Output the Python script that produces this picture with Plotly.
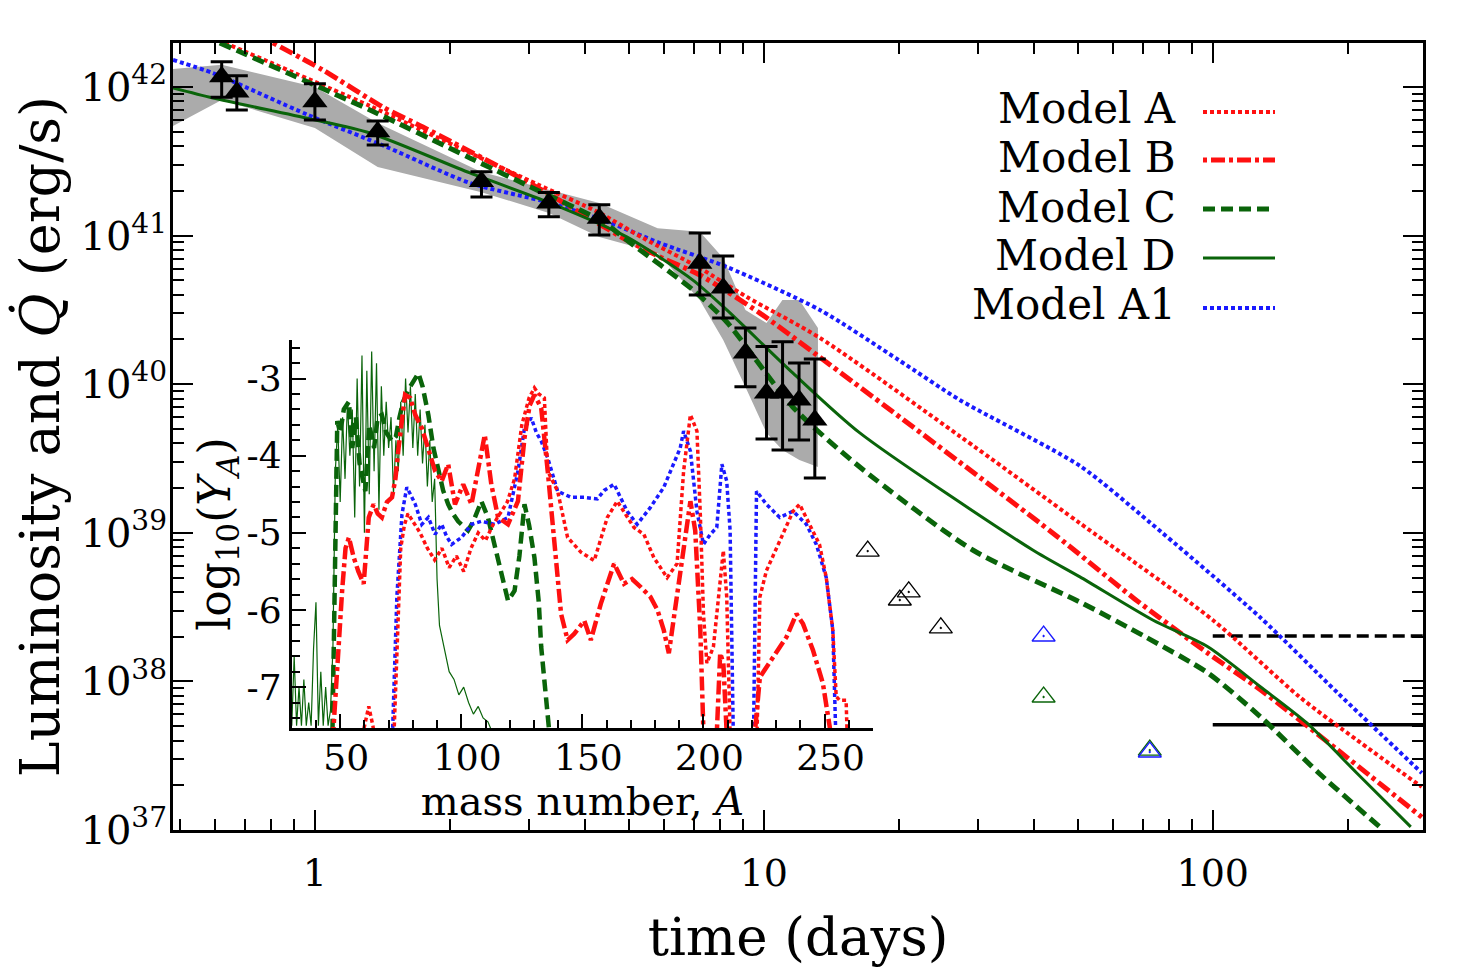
import numpy as np
import plotly.graph_objects as go

FONT = "DejaVu Serif"

# ---------------- main panel data ----------------
obs_t = [0.62, 0.67, 1.0, 1.38, 2.35, 3.32, 4.30, 7.20, 8.12, 9.10, 10.14, 11.01, 11.98, 12.99]
obs_L = [1.17e42, 9.25e41, 7.96e41, 5.00e41, 2.31e41, 1.66e41, 1.31e41, 6.52e40, 4.44e40, 1.62e40,
         8.73e39, 8.73e39, 7.83e39, 5.74e39]
obs_L_hi = [1.48e42, 1.19e42, 1.05e42, 5.90e41, 2.69e41, 1.95e41, 1.61e41, 1.04e41, 7.29e40, 2.39e40,
            1.79e40, 1.93e40, 1.39e40, 1.48e40]
obs_L_lo = [8.53e41, 7.00e41, 6.00e41, 4.07e41, 1.82e41, 1.34e41, 1.01e41, 3.98e40, 2.79e40, 9.62e39,
            4.28e39, 3.61e39, 4.21e39, 2.34e39]

band_t = [0.483, 0.62, 1.0, 1.38, 2.35, 3.32, 4.3, 5.8, 7.2, 8.12, 9.1, 10.14, 11.0, 12.0, 13.2]
band_hi = [1.32e42, 1.41e42, 1.0e42, 5.73e41, 2.68e41, 2.03e41, 1.66e41, 1.12e41, 1.06e41, 7.06e40,
           3.16e40, 2.58e40, 3.69e40, 3.69e40, 2.39e40]
band_lo = [5.47e41, 8.18e41, 5.30e41, 2.90e41, 1.96e41, 1.42e41, 9.79e40, 7.64e40, 3.69e40, 1.98e40,
           9.57e39, 4.70e39, 3.61e39, 3.09e39, 2.77e39]

modelA_t = [0.630, 1.326, 2.214, 3.122, 4.31, 5.38, 7.20, 9.17, 13.33, 27.3, 50.6, 100, 156.2, 209.3, 292.2]
modelA_L = [1.98e42, 7.45e41, 3.60e41, 2.22e41, 1.42e41, 9.64e40, 6.05e40, 3.86e40, 2.05e40, 4.48e39,
            1.16e39, 2.59e38, 7.85e37, 4.04e37, 1.95e37]

modelB_t = [0.806, 1.042, 1.417, 1.740, 3.122, 4.95, 5.87, 7.20, 9.80, 13.33, 44.0, 67.0, 97.5, 127.9,
            189.9, 292.2]
modelB_L = [1.98e42, 1.30e42, 7.33e41, 5.38e41, 2.12e41, 9.33e40, 7.18e40, 5.43e40, 3.01e40, 1.52e40,
            9.98e38, 3.59e38, 1.55e38, 8.75e37, 3.45e37, 1.22e37]

modelC_t = [0.614, 1.326, 2.214, 3.122, 4.38, 4.95, 6.95, 8.27, 11.6, 16.36, 29.2, 50.6, 70.9, 97.5,
            127.9, 172.2, 235.4]
modelC_L = [1.98e42, 7.00e41, 3.33e41, 2.03e41, 1.24e41, 9.33e40, 4.31e40, 2.62e40, 7.03e39, 2.77e39,
            7.66e38, 3.42e38, 1.99e38, 1.14e38, 5.76e37, 2.42e37, 1.05e37]

modelD_t = [0.483, 0.593, 0.975, 1.326, 2.214, 3.337, 4.95, 6.95, 8.27, 11.6, 16.36, 39.72, 50.6, 73.5,
            97.5, 127.9, 162.0, 209.3, 276.1]
modelD_L = [9.85e41, 8.43e41, 6.10e41, 4.90e41, 2.64e41, 1.66e41, 9.80e40, 5.02e40, 3.16e40, 1.19e40,
            4.70e39, 7.66e38, 5.05e38, 2.59e38, 1.71e38, 9.17e37, 5.25e37, 2.42e37, 1.05e37]

modelA1_t = [0.483, 0.593, 0.965, 1.447, 2.214, 3.337, 4.54, 5.87, 8.27, 13.33, 20.0, 27.33, 50.6, 72.3,
             127.3, 189.9, 292.2]
modelA1_L = [1.52e42, 1.24e42, 6.49e41, 3.94e41, 2.26e41, 1.66e41, 1.22e41, 8.9e40, 6.15e40, 3.16e40,
             1.45e40, 7.83e39, 2.82e39, 1.18e39, 2.71e38, 8.35e37, 2.42e37]

upper_black_t = [17.04, 20.09, 21.03, 24.79]
upper_black_L = [7.53e38, 3.53e38, 4.00e38, 2.29e38]
upper_blue_t = [42.0, 72.4]
upper_blue_L = [2.02e38, 3.35e37]
upper_green_t = [42.0, 72.4]
upper_green_L = [7.85e37, 3.45e37]

limit_t = [100, 300]
limit_dashed_L = [2.02e38, 2.02e38]
limit_solid_L = [5.1e37, 5.1e37]

legend_names = ["Model A", "Model B", "Model C", "Model D", "Model A1"]

# ---------------- inset data (log10 Y_A vs mass number A) ----------------
insC_A = [46.7, 48.0, 48.8, 50, 51.5, 53.6, 55, 56.5, 58, 60.4, 62, 64, 65.5, 67.2, 69, 71.4, 73, 74.5,
          76, 78, 80, 82.3, 84, 86.4, 88.5, 90.5, 92.5, 94.6, 96.5, 98.7, 100.5, 102.8, 105, 108.3, 111,
          113.8, 116.5, 119.3, 122, 124, 126.1, 128, 130.2, 132, 133, 134.5, 135.7, 137]
insC_Y = [-7.8, -5.5, -3.55, -3.7, -3.4, -3.3, -3.9, -3.5, -4.1, -4.46, -3.6, -3.9, -3.5, -3.47, -3.7,
          -3.81, -3.75, -3.5, -3.3, -3.15, -3.05, -2.93, -3.1, -3.47, -3.9, -4.2, -4.45, -4.63, -4.75,
          -4.85, -4.9, -4.97, -4.85, -4.59, -4.8, -5.15, -5.5, -5.88, -5.75, -5.3, -4.63, -4.9, -5.32,
          -5.9, -6.48, -7.0, -7.53, -7.8]

insD_A = [30, 31, 32, 33, 34, 35, 36, 37, 38, 39, 40, 41, 42, 43, 44, 45, 46, 47, 48, 49, 50, 51, 52, 53,
          54, 55, 56, 57, 58, 59, 60, 61, 62, 63, 64, 65, 66, 67, 68, 69, 70, 71, 72, 73, 74, 75, 76, 77,
          78, 79, 80, 81, 82, 83, 84, 85, 86, 87, 88, 89, 90, 91, 93, 95, 97, 99, 101, 103, 105, 107, 109,
          111, 113]
insD_Y = [-7.5, -6.6, -7.5, -7.0, -7.5, -6.9, -7.5, -7.2, -7.5, -6.5, -5.9, -7.5, -6.8, -7.5, -7.0, -7.5,
          -7.3, -6.5, -4.2, -3.6, -4.6, -3.5, -4.3, -3.3, -4.0, -3.4, -4.8, -3.0, -4.4, -2.7, -5.0, -2.9,
          -4.5, -2.65, -4.2, -2.8, -4.7, -3.1, -4.0, -3.3, -3.9, -3.5, -4.5, -3.8, -4.2, -3.3, -4.0, -3.0,
          -3.7, -3.1, -3.9, -3.2, -4.0, -3.4, -4.1, -3.6, -4.4, -3.8, -4.6, -4.3, -5.6, -6.2, -6.5, -6.8,
          -6.9, -7.1, -7.0, -7.2, -7.35, -7.25, -7.4, -7.45, -7.6]

insB_A = [46.7, 48.8, 50.8, 52.2, 53.6, 55.6, 57.5, 59.7, 61.8, 63.8, 65.5, 67.2, 69.3, 71.4, 72.8, 74.1,
          75.5, 76.8, 78.9, 81, 83.7, 86.4, 89.2, 91.9, 94.6, 97.4, 100.8, 104.2, 107, 109.7, 112.4, 115.2,
          119.3, 123.4, 126.1, 128.2, 130.2, 133, 135.7, 138.4, 141.2, 143.9, 146.6, 150.8, 153.5, 157.6,
          163.1, 167.2, 170.5, 174, 178.1, 181, 183.6, 185.7, 189.1, 191.8, 194.6, 196.6, 198.7, 200.0,
          201.5, 205.5, 206.9, 208.2, 209.6, 211, 220, 221.2, 223.3, 228.8, 234.3, 238.4, 241.1, 245.2,
          249.3, 252.1, 253.5]
insB_Y = [-7.8, -6.69, -5.75, -5.2, -5.06, -5.32, -5.5, -5.66, -4.8, -4.63, -4.75, -4.8, -4.6, -4.54,
          -4.3, -3.9, -3.5, -3.21, -3.25, -3.47, -3.64, -3.9, -4.2, -4.33, -4.11, -4.63, -4.37, -4.63,
          -4.2, -3.73, -4.37, -4.8, -4.89, -4.59, -3.77, -3.35, -3.21, -3.38, -4.2, -5.19, -6.05, -6.39,
          -6.31, -6.14, -6.39, -5.92, -5.40, -5.66, -5.6, -5.7, -5.83, -6.0, -6.26, -6.56, -5.83, -5.19,
          -4.59, -4.97, -6.26, -7.6, -7.8, -7.6, -6.56, -6.69, -7.6, -7.8, -7.8, -7.6, -6.87, -6.61,
          -6.35, -6.05, -6.18, -6.52, -6.95, -7.51, -7.8]

insA_A = [58, 60, 61.8, 63.5, 65, 72, 73.5, 75, 76.5, 78, 80, 83, 86, 89, 92, 95, 98, 101, 104, 107, 110,
          113, 116, 119, 122, 125, 128, 130.2, 132, 134.3, 135.7, 139.8, 143.9, 149.4, 154.9, 160.3,
          164.4, 167.2, 171.3, 175.4, 179.5, 185, 189.1, 191.8, 194.6, 197.3, 198.7, 200, 201.4, 204.1,
          206.9, 208.2, 209.6, 211, 222, 223.3, 226, 231.5, 237, 239.7, 243.8, 247.9, 250.7, 253.4, 254.8,
          256.2, 258.9, 259.5]
insA_Y = [-7.8, -7.5, -7.25, -7.5, -7.8, -7.8, -6.5, -5.2, -4.9, -4.75, -4.85, -5.0, -5.2, -5.35, -5.2,
          -5.45, -5.3, -5.5, -5.2, -5.0, -5.1, -4.9, -4.75, -4.6, -4.3, -3.6, -3.25, -3.12, -3.2, -3.25,
          -4.2, -4.46, -5.06, -5.25, -5.36, -4.8, -4.59, -4.72, -4.93, -5.02, -5.32, -5.58, -5.40, -4.2,
          -3.47, -3.68, -4.76, -6.05, -6.69, -6.48, -5.62, -5.23, -5.83, -7.6, -7.8, -5.83, -5.49, -5.1,
          -4.72, -4.63, -4.89, -5.15, -5.58, -6.26, -7.12, -7.17, -7.17, -7.8]

insA1_A = [71.4, 73.4, 75.5, 77.5, 79, 81, 83.7, 86.4, 89.2, 91.9, 94, 96, 100.1, 104.2, 108.3, 113.8,
           119.3, 123.4, 126.1, 128.9, 131, 133, 135.7, 139.8, 145.3, 150.8, 156.2, 159, 163.1, 168.5,
           172.6, 178.1, 183.6, 187.7, 190.4, 191.8, 194.6, 197.3, 200, 202.8, 205.5, 207.6, 209.6, 211,
           212.4, 220.6, 221.3, 221.9, 226, 231.5, 237, 242.5, 246.6, 250.7, 253.4, 254.8]
insA1_Y = [-7.8, -5.83, -4.76, -4.41, -4.5, -4.63, -4.89, -4.80, -5.02, -4.89, -5.05, -5.15, -5.06, -4.89,
           -4.85, -4.89, -4.80, -4.2, -3.64, -3.51, -3.7, -3.81, -4.03, -4.46, -4.54, -4.54, -4.56, -4.45,
           -4.37, -4.72, -4.89, -4.67, -4.41, -4.11, -3.9, -3.68, -3.94, -4.72, -5.15, -5.02, -4.93, -4.11,
           -4.33, -4.97, -7.8, -7.8, -5.40, -4.46, -4.63, -4.80, -4.72, -4.89, -5.15, -5.58, -6.26, -7.8]

# ---------------- styles ----------------
RED = "#ff1010"
GREEN = "#0a640a"
BLUE = "#1a1aff"
styles = {
    "Model A": dict(color=RED, width=4, dash="4px,3px"),
    "Model B": dict(color=RED, width=5, dash="4px,4px,14px,4px"),
    "Model C": dict(color=GREEN, width=5, dash="12px,6px"),
    "Model D": dict(color=GREEN, width=3, dash="solid"),
    "Model A1": dict(color=BLUE, width=4, dash="4px,3px"),
}

fig = go.Figure()

# grey band
fig.add_trace(go.Scatter(x=band_t + band_t[::-1], y=band_hi + band_lo[::-1], fill="toself",
                         fillcolor="#ababab", line=dict(width=0), mode="lines",
                         hoverinfo="skip", showlegend=False))

# limit lines
fig.add_trace(go.Scatter(x=limit_t, y=limit_dashed_L, mode="lines",
                         line=dict(color="black", width=3.5, dash="12px,6px"), showlegend=False))
fig.add_trace(go.Scatter(x=limit_t, y=limit_solid_L, mode="lines",
                         line=dict(color="black", width=3.5), showlegend=False))

model_data = [("Model A1", modelA1_t, modelA1_L), ("Model A", modelA_t, modelA_L),
              ("Model B", modelB_t, modelB_L), ("Model D", modelD_t, modelD_L),
              ("Model C", modelC_t, modelC_L)]
for name, tt, LL in model_data:
    fig.add_trace(go.Scatter(x=tt, y=LL, mode="lines", line=dict(**styles[name], shape="spline",
                                                              smoothing=0.7),
                             showlegend=False, name=name))

# open triangles
for tt, LL, col in [(upper_black_t, upper_black_L, "black"), (upper_green_t, upper_green_L, GREEN),
                    (upper_blue_t, upper_blue_L, BLUE)]:
    fig.add_trace(go.Scatter(x=tt, y=LL, mode="markers",
                             marker=dict(symbol="triangle-up-open-dot", size=20, color=col,
                                         line=dict(width=1.3, color=col)), showlegend=False))

# observed points with error bars
obs_L_arr = np.array(obs_L)
err_plus = np.array(obs_L_hi) - obs_L_arr
err_minus = obs_L_arr - np.array(obs_L_lo)
fig.add_trace(go.Scatter(x=obs_t, y=obs_L, mode="markers",
                         marker=dict(symbol="triangle-up", size=22, color="black"),
                         error_y=dict(type="data", array=err_plus, arrayminus=err_minus,
                                      thickness=3, width=11, color="black"),
                         showlegend=False))

# inset traces
inset_styles = {
    "Model A": dict(color=RED, width=3.5, dash="4px,3px"),
    "Model B": dict(color=RED, width=4.5, dash="4px,4px,14px,4px"),
    "Model C": dict(color=GREEN, width=4.5, dash="12px,6px"),
    "Model D": dict(color=GREEN, width=1.2, dash="solid"),
    "Model A1": dict(color=BLUE, width=3.5, dash="4px,3px"),
}
for name, AA, YY in [("Model D", insD_A, insD_Y), ("Model C", insC_A, insC_Y),
                     ("Model A1", insA1_A, insA1_Y), ("Model A", insA_A, insA_Y),
                     ("Model B", insB_A, insB_Y)]:
    fig.add_trace(go.Scatter(x=AA, y=YY, mode="lines", line=inset_styles[name],
                             xaxis="x2", yaxis="y2", showlegend=False))

# ---------------- axes ----------------
x_minor = [m * 10.0 ** e for e in range(-1, 3) for m in range(2, 10)]
x_minor = [v for v in x_minor if 0.483 <= v <= 294]
y_minor = [m * 10.0 ** e for e in range(37, 42) for m in range(2, 10)]
y_major = [10.0 ** e for e in range(37, 43)]

# page body has an 8px default margin; the figure is sized so that the plot area lands where the reference has it
fig.update_layout(
    width=1454, height=972,
    margin=dict(l=165, r=39, t=35, b=150),
    paper_bgcolor="white", plot_bgcolor="rgba(0,0,0,0)",
    font=dict(family=FONT, color="black"),
    showlegend=False,
    xaxis=dict(type="log", range=[np.log10(0.483), np.log10(294)], domain=[0, 1],
               tickvals=[1, 10, 100], ticktext=["1", "10", "100"], ticks="inside", ticklen=20,
               tickwidth=2, tickcolor="black", mirror="allticks", showline=True, linewidth=3,
               linecolor="black", showgrid=False, zeroline=False, ticklabelstandoff=7,
               minor=dict(tickvals=x_minor, ticks="inside", ticklen=11, tickwidth=1.5,
                          tickcolor="black", showgrid=False),
               tickfont=dict(size=38, family=FONT),
               title=dict(text="time (days)", font=dict(size=53, family=FONT), standoff=25)),
    yaxis=dict(type="log", range=[37, 42.296], domain=[0, 1],
               tickvals=y_major, ticktext=["10<sup>%d</sup>" % e for e in range(37, 43)],
               ticks="inside", ticklen=20, tickwidth=2, tickcolor="black", mirror="allticks",
               showline=True, linewidth=3, linecolor="black", showgrid=False, zeroline=False,
               ticklabelstandoff=-5,
               minor=dict(tickvals=y_minor, ticks="inside", ticklen=11, tickwidth=1.5,
                          tickcolor="black", showgrid=False),
               tickfont=dict(size=40, family=FONT),
               title=dict(text="Luminosity and <i>Q\u0307</i> (erg/s)", font=dict(size=54, family=FONT),
                          standoff=8)),
    xaxis2=dict(domain=[0.095, 0.56], anchor="y2", range=[30, 270],
                tickvals=[50, 100, 150, 200, 250], ticks="inside", ticklen=14, tickwidth=2,
                tickcolor="black", showline=True, linewidth=3, linecolor="black", mirror=False,
                showgrid=False, zeroline=False, ticklabelstandoff=-4, ticklabelshift=6,
                minor=dict(dtick=10, ticks="inside", ticklen=8, tickwidth=1.5, tickcolor="black",
                           showgrid=False),
                tickfont=dict(size=36, family=FONT),
                title=dict(text="mass number, <i>A</i>", font=dict(size=40, family=FONT), standoff=0)),
    yaxis2=dict(domain=[0.1296, 0.6226], anchor="x2", range=[-7.53, -2.5],
                tickvals=[-3, -4, -5, -6, -7], ticktext=["-3", "-4", "-5", "-6", "-7"],
                ticks="inside", ticklen=14, tickwidth=2, tickcolor="black", showline=True,
                linewidth=3, linecolor="black", mirror=False, showgrid=False, zeroline=False,
                minor=dict(dtick=0.2, ticks="inside", ticklen=8, tickwidth=1.5, tickcolor="black",
                           showgrid=False),
                tickfont=dict(size=36, family=FONT),
                title=dict(text="log<sub>10</sub>(<i>Y<sub>A</sub></i>)", font=dict(size=44, family=FONT),
                           standoff=2)),
)

# legend drawn as text + line samples (text on the left, sample on the right)
leg_text_y = [0.9174, 0.8551, 0.7916, 0.7294, 0.6671]
leg_line_y = [0.9123, 0.8513, 0.7891, 0.7268, 0.6633]
for name, ty, ly in zip(legend_names, leg_text_y, leg_line_y):
    fig.add_annotation(x=0.804, y=ty, xref="paper", yref="paper", text=name, showarrow=False,
                       xanchor="right", yanchor="middle", font=dict(size=42, family=FONT))
    st = styles[name]
    fig.add_shape(type="line", xref="paper", yref="paper", x0=0.824, x1=0.8816, y0=ly, y1=ly,
                  line=dict(color=st["color"], width=st["width"], dash=st["dash"]))

fig.write_html("out.html")
